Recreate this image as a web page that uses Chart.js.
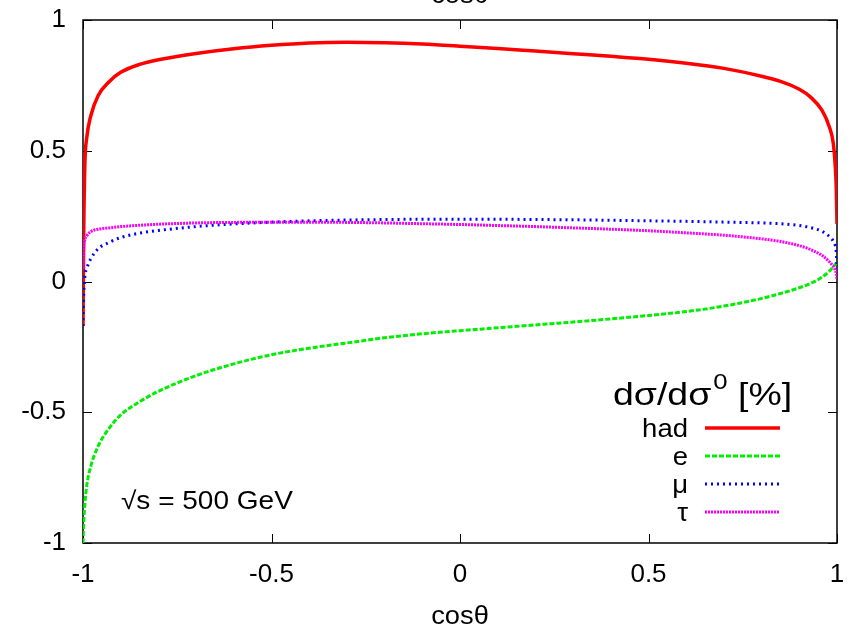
<!DOCTYPE html>
<html>
<head>
<meta charset="utf-8">
<script src="https://cdn.jsdelivr.net/npm/chart.js@4.4.1/dist/chart.umd.min.js"></script>
<style>
  html, body { margin: 0; padding: 0; background: #fff; }
  #wrap { width: 849px; height: 627px; position: relative; }
</style>
</head>
<body>
<div id="wrap"><canvas id="xsecChart"></canvas></div>
<script>
// cos(theta) sample points, denser near the edges
const cosTheta = [-1, -0.998, -0.995, -0.99, -0.98, -0.96, -0.93, -0.9, -0.85, -0.8, -0.7, -0.6, -0.5, -0.4, -0.3, -0.2, -0.1,
    0, 0.1, 0.2, 0.3, 0.4, 0.5, 0.6, 0.7, 0.8, 0.85, 0.9, 0.93, 0.96, 0.98, 0.99, 0.995, 0.998, 1];

const hadValues = [-0.17, 0.2, 0.45, 0.55, 0.63, 0.71, 0.765, 0.8, 0.83, 0.848, 0.872, 0.89, 0.903, 0.912, 0.915, 0.913, 0.908,
    0.9, 0.891, 0.881, 0.871, 0.861, 0.85, 0.835, 0.815, 0.785, 0.765, 0.735, 0.705, 0.655, 0.59, 0.53, 0.45, 0.36, 0.22];

const eValues = [-1.0, -0.92, -0.85, -0.78, -0.71, -0.63, -0.56, -0.51, -0.46, -0.42, -0.36, -0.315, -0.28, -0.255, -0.235, -0.215, -0.2,
    -0.188, -0.177, -0.166, -0.155, -0.143, -0.13, -0.115, -0.094, -0.065, -0.046, -0.024, -0.007, 0.016, 0.04, 0.056, 0.065, 0.07, 0.07];

const muValues = [-0.17, -0.05, 0.02, 0.05, 0.085, 0.125, 0.15, 0.168, 0.185, 0.195, 0.21, 0.22, 0.227, 0.232, 0.235, 0.237, 0.238,
    0.238, 0.238, 0.237, 0.236, 0.234, 0.232, 0.23, 0.227, 0.224, 0.221, 0.214, 0.206, 0.192, 0.172, 0.155, 0.14, 0.115, 0.06];

const tauValues = [0.05, 0.13, 0.16, 0.175, 0.19, 0.2, 0.205, 0.21, 0.215, 0.219, 0.224, 0.226, 0.227, 0.227, 0.226, 0.224, 0.221,
    0.218, 0.214, 0.21, 0.205, 0.2, 0.194, 0.186, 0.177, 0.163, 0.153, 0.137, 0.122, 0.1, 0.075, 0.058, 0.045, 0.03, 0.01];

const seriesLabels = ['had', 'e', 'μ', 'τ'];
const tickValues = [-1, -0.5, 0, 0.5, 1];
const tickLabels = ['-1', '-0.5', '0', '0.5', '1'];

const FONT = '"Liberation Sans", Arial, Helvetica, sans-serif';

const seriesStyle = [
    { color: '#ff0000', dash: [], width: 3.5 },
    { color: '#00ee00', dash: [5, 2], width: 3 },
    { color: '#0000ff', dash: [2, 4], width: 3 },
    { color: '#ff00ff', dash: [2, 1], width: 3 }
];

function toPoints(ys) {
    return cosTheta.map((x, i) => ({ x: x, y: ys[i] }));
}

function tickText(value) {
    const i = tickValues.indexOf(value);
    return i >= 0 ? tickLabels[i] : '';
}

const allSeries = [hadValues, eValues, muValues, tauValues];

const datasets = allSeries.map((ys, i) => ({
    label: seriesLabels[i],
    data: toPoints(ys),
    borderColor: seriesStyle[i].color,
    borderWidth: seriesStyle[i].width,
    borderDash: seriesStyle[i].dash,
    pointRadius: 0,
    cubicInterpolationMode: 'monotone',
    fill: false,
    order: 4 - i
}));

// frame with inward ticks on all four sides (gnuplot look)
const framePlugin = {
    id: 'frame',
    beforeDatasetsDraw(chart) {
        const { ctx, chartArea: a, scales } = chart;
        ctx.save();
        ctx.strokeStyle = '#000';
        ctx.lineWidth = 1.5;
        ctx.strokeRect(a.left, a.top, a.right - a.left, a.bottom - a.top);
        ctx.lineWidth = 1;
        const tl = 9;
        tickValues.forEach(v => {
            const px = Math.round(scales.x.getPixelForValue(v)) + 0.5;
            ctx.beginPath();
            ctx.moveTo(px, a.bottom); ctx.lineTo(px, a.bottom - tl);
            ctx.moveTo(px, a.top); ctx.lineTo(px, a.top + tl);
            const py = Math.round(scales.y.getPixelForValue(v)) + 0.5;
            ctx.moveTo(a.left, py); ctx.lineTo(a.left + tl, py);
            ctx.moveTo(a.right, py); ctx.lineTo(a.right - tl, py);
            ctx.stroke();
        });
        ctx.restore();
    }
};

// text drawn a bit wider, like the reference's font
function wideText(ctx, text, x, y, sx, align) {
    ctx.save();
    ctx.translate(x, y);
    ctx.scale(sx, 1);
    ctx.textAlign = align;
    ctx.fillText(text, 0, 0);
    ctx.restore();
    return ctx.measureText(text).width * sx;
}

// key box, energy label and cut-off top title
const keyPlugin = {
    id: 'key',
    afterDraw(chart) {
        const { ctx } = chart;
        ctx.save();
        ctx.fillStyle = '#000';
        ctx.textBaseline = 'alphabetic';

        // top title (mostly outside the canvas, as in the reference)
        ctx.font = '26px ' + FONT;
        wideText(ctx, 'cosθ', 460, 3, 1.05, 'center');

        // x axis title
        wideText(ctx, 'cosθ', 460, 624, 1.05, 'center');

        // key title with superscript
        const sx = 1.17;
        let x = 613;
        const base = 405;
        ctx.font = '32px ' + FONT;
        x += wideText(ctx, 'dσ/dσ', x, base, sx, 'left');
        ctx.font = '22px ' + FONT;
        x += wideText(ctx, '0', x + 2, base - 16, sx, 'left') + 2;
        ctx.font = '32px ' + FONT;
        wideText(ctx, ' [%]', x, base, sx, 'left');

        // key entries
        ctx.font = '25px ' + FONT;
        const rowY = [428, 456, 484, 512];
        seriesLabels.forEach((lab, i) => {
            ctx.fillStyle = '#000';
            wideText(ctx, lab, 688, rowY[i] + 9, 1.1, 'right');
            ctx.beginPath();
            ctx.strokeStyle = seriesStyle[i].color;
            ctx.lineWidth = seriesStyle[i].width;
            ctx.setLineDash(seriesStyle[i].dash);
            ctx.moveTo(705, rowY[i]);
            ctx.lineTo(780, rowY[i]);
            ctx.stroke();
            ctx.setLineDash([]);
        });

        // energy label
        ctx.fillStyle = '#000';
        ctx.font = '25px ' + FONT;
        wideText(ctx, '√s = 500 GeV', 121, 509, 1.12, 'left');
        ctx.restore();
    }
};

const chartCanvas = document.getElementById('xsecChart');

new Chart(chartCanvas, {
    type: 'line',
    data: { datasets: datasets },
    options: {
        responsive: true,
        maintainAspectRatio: false,
        animation: false,
        layout: { padding: { top: 20, right: 12, left: 0, bottom: 0 } },
        plugins: {
            legend: { display: false },
            tooltip: { enabled: false }
        },
        scales: {
            x: {
                type: 'linear',
                min: -1,
                max: 1,
                afterBuildTicks: (scale) => { scale.ticks = tickValues.map(v => ({ value: v })); },
                afterFit: (scale) => { scale.height = 84; scale.paddingLeft = 0; scale.paddingRight = 0; },
                grid: { display: false, drawTicks: false },
                border: { display: false },
                ticks: { color: '#000', font: { family: FONT, size: 26 }, padding: 16, maxRotation: 0, callback: tickText }
            },
            y: {
                min: -1,
                max: 1,
                afterBuildTicks: (scale) => { scale.ticks = tickValues.map(v => ({ value: v })); },
                afterFit: (scale) => { scale.width = 83; scale.paddingTop = 0; scale.paddingBottom = 0; },
                grid: { display: false, drawTicks: false },
                border: { display: false },
                ticks: { color: '#000', font: { family: FONT, size: 26 }, padding: 17, callback: tickText }
            }
        }
    },
    plugins: [framePlugin, keyPlugin]
});
</script>
</body>
</html>
